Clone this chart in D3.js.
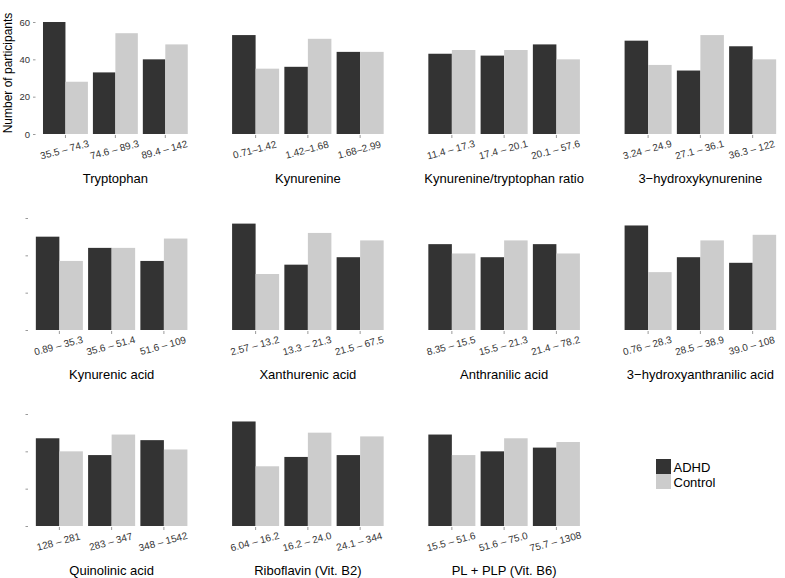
<!DOCTYPE html>
<html>
<head>
<meta charset="utf-8">
<script src="https://cdn.jsdelivr.net/npm/d3@7"></script>
<style>
  body { margin: 0; background: #fff; }
  text { font-family: "Liberation Sans", Arial, Helvetica, sans-serif; }
</style>
</head>
<body>
<div id="chart"></div>
<script>
// data
var panelTitles = ["Tryptophan", "Kynurenine", "Kynurenine/tryptophan ratio", "3\u2212hydroxykynurenine",
  "Kynurenic acid", "Xanthurenic acid", "Anthranilic acid", "3\u2212hydroxyanthranilic acid",
  "Quinolinic acid", "Riboflavin (Vit. B2)", "PL + PLP (Vit. B6)"];

var binLabels = [
  ["35.5 \u2013 74.3", "74.6 \u2013 89.3", "89.4 \u2013 142"],
  ["0.71\u20131.42", "1.42\u20131.68", "1.68\u20132.99"],
  ["11.4 \u2013 17.3", "17.4 \u2013 20.1", "20.1 \u2013 57.6"],
  ["3.24 \u2013 24.9", "27.1 \u2013 36.1", "36.3 \u2013 122"],
  ["0.89 \u2013 35.3", "35.6 \u2013 51.4", "51.6 \u2013 109"],
  ["2.57 \u2013 13.2", "13.3 \u2013 21.3", "21.5 \u2013 67.5"],
  ["8.35 \u2013 15.5", "15.5 \u2013 21.3", "21.4 \u2013 78.2"],
  ["0.76 \u2013 28.3", "28.5 \u2013 38.9", "39.0 \u2013 108"],
  ["128 \u2013 281", "283 \u2013 347", "348 \u2013 1542"],
  ["6.04 \u2013 16.2", "16.2 \u2013 24.0", "24.1 \u2013 344"],
  ["15.5 \u2013 51.6", "51.6 \u2013 75.0", "75.7 \u2013 1308"]
];

var adhdCounts = [
  [60, 33, 40], [53, 36, 44], [43, 42, 48], [50, 34, 47],
  [50, 44, 37], [57, 35, 39], [46, 39, 46], [56, 39, 36],
  [47, 38, 46], [56, 37, 38], [49, 40, 42]
];
var controlCounts = [
  [28, 54, 48], [35, 51, 44], [45, 45, 40], [37, 53, 40],
  [37, 44, 49], [30, 52, 48], [41, 48, 41], [31, 48, 51],
  [40, 49, 41], [32, 50, 48], [38, 47, 45]
];

var groups = ["ADHD", "Control"];
var yTicks = [0, 20, 40, 60];

var width = 785, height = 578;
var colW = 196.25, rowH = 196;
var color = d3.scaleOrdinal().domain(groups).range(["#333333", "#cccccc"]);

var svg = d3.select("#chart").append("svg")
  .attr("width", width)
  .attr("height", height);

panelTitles.forEach(function(title, i) {
  var col = i % 4, row = Math.floor(i / 4);
  var left = col * colW + ((col == 0 && row == 0) ? 35.5 : 28);
  var right = (col + 1) * colW - 1;
  var zero = 134 + row * rowH;

  var y = d3.scaleLinear()
    .domain([0, 65])
    .range([zero, zero - 65 * (37.33 / 20)]);

  var x = d3.scaleBand()
    .domain(binLabels[i])
    .range([left, right])
    .paddingInner(0.1)
    .paddingOuter(0.15);

  var xg = d3.scaleBand()
    .domain(groups)
    .range([0, x.bandwidth()]);

  var g = svg.append("g");

  var rows = binLabels[i].map(function(b, k) {
    return { bin: b, ADHD: adhdCounts[i][k], Control: controlCounts[i][k] };
  });

  // bars
  g.selectAll("g.bin")
    .data(rows)
    .enter().append("g")
      .attr("transform", function(d) { return "translate(" + x(d.bin) + ",0)"; })
    .selectAll("rect")
    .data(function(d) { return groups.map(function(k) { return { key: k, value: d[k] }; }); })
    .enter().append("rect")
      .attr("x", function(d) { return xg(d.key); })
      .attr("y", function(d) { return y(d.value); })
      .attr("width", xg.bandwidth())
      .attr("height", function(d) { return y(0) - y(d.value); })
      .style("fill", function(d) { return color(d.key); });

  // x ticks
  var xAxis = g.append("g")
    .attr("transform", "translate(0," + (zero + 1) + ")")
    .call(d3.axisBottom(x).tickSize(3).tickFormat(""));
  xAxis.select(".domain").remove();
  xAxis.selectAll("line").attr("stroke", "#555").attr("stroke-width", 0.6);

  // rotated bin labels
  g.selectAll("text.bin")
    .data(binLabels[i])
    .enter().append("text")
      .attr("class", "bin")
      .attr("x", function(d) { return x(d) + x.bandwidth() / 2; })
      .attr("y", zero + 19)
      .attr("text-anchor", "middle")
      .attr("transform", function(d) {
        return "rotate(-15," + (x(d) + x.bandwidth() / 2) + "," + (zero + 19) + ")";
      })
      .style("font-size", "10px")
      .style("fill", "#333")
      .text(function(d) { return d; });

  // panel title
  g.append("text")
    .attr("x", (left + right) / 2)
    .attr("y", zero + 49)
    .attr("text-anchor", "middle")
    .style("font-size", "13px")
    .style("fill", "#000")
    .text(title);

  // y axis only on first column
  if (col == 0) {
    var yAxis = g.append("g")
      .attr("transform", "translate(" + left + ",0)")
      .call(d3.axisLeft(y).tickValues(yTicks).tickSize(2.5).tickPadding(3)
        .tickFormat(row == 0 ? d3.format("d") : ""));
    yAxis.select(".domain").remove();
    yAxis.selectAll("line").attr("stroke", "#555").attr("stroke-width", 0.6);
    yAxis.selectAll("text")
      .style("font-size", "9.5px")
      .style("fill", "#333")
      .style("font-family", "'Liberation Sans', Arial, sans-serif");

    if (row == 0) {
      g.append("text")
        .attr("transform", "translate(11.5," + (zero - 61) + ") rotate(-90)")
        .attr("text-anchor", "middle")
        .style("font-size", "12px")
        .text("Number of participants");
    }
  }
});

// legend
var legend = svg.append("g").attr("transform", "translate(656,459)");
groups.forEach(function(k, j) {
  legend.append("rect")
    .attr("x", 0)
    .attr("y", j * 15)
    .attr("width", 15)
    .attr("height", 15)
    .style("fill", color(k));
  legend.append("text")
    .attr("x", 17.5)
    .attr("y", j * 15 + 12.5)
    .style("font-size", "13px")
    .text(k);
});
</script>
</body>
</html>
